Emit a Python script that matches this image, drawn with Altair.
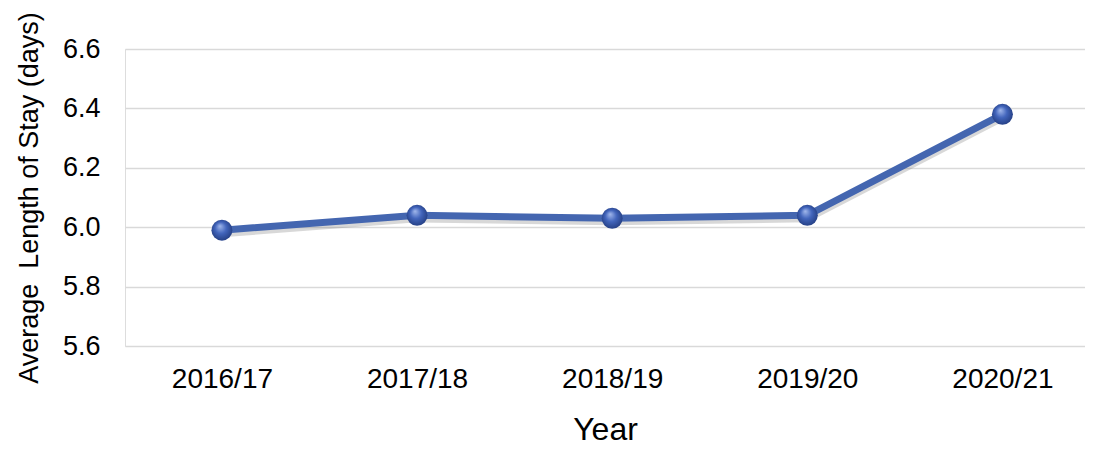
import altair as alt
import pandas as pd

years = ["2016/17", "2017/18", "2018/19", "2019/20", "2020/21"]
los = [5.99, 6.04, 6.03, 6.04, 6.38]
y_ticks = [5.6, 5.8, 6.0, 6.2, 6.4, 6.6]

df = pd.DataFrame({"year": years, "los": los})

FONT = "Liberation Sans"
Y_TITLE = "Average\u00a0 Length of Stay (days)"

x_enc = alt.X(
    "year:N",
    sort=years,
    scale=alt.Scale(type="point", padding=0.46, align=0.54),
    axis=alt.Axis(
        title="Year",
        labelAngle=0,
        labelFontSize=28,
        labelFont=FONT,
        labelColor="#000000",
        labelPadding=19,
        ticks=False,
        tickSize=0,
        domain=False,
        grid=False,
        titleFontSize=32,
        titleFont=FONT,
        titleFontWeight="normal",
        titleColor="#000000",
        titleBaseline="alphabetic",
        titleY=93,
    ),
)

y_axis = alt.Axis(
    title=Y_TITLE,
    values=y_ticks,
    format=".1f",
    labelFontSize=27,
    labelFont=FONT,
    labelColor="#000000",
    labelPadding=25,
    ticks=False,
    tickSize=0,
    domain=False,
    grid=True,
    gridColor="#d9d9d9",
    gridWidth=1.5,
    titleFontSize=27,
    titleFont=FONT,
    titleFontWeight="normal",
    titleColor="#000000",
    titleBaseline="middle",
    titleX=-96,
)
y_scale = alt.Scale(domain=[5.6, 6.6], nice=False, zero=False)

base = alt.Chart(df)

shadow = base.transform_calculate(sh="datum.los - 0.012").mark_line(
    color="#7f7f7f", strokeWidth=7, opacity=0.3
).encode(x=x_enc, y=alt.Y("sh:Q", scale=y_scale, axis=y_axis, title=Y_TITLE))

line = base.mark_line(color="#4466b0", strokeWidth=7).encode(
    x=x_enc, y=alt.Y("los:Q", scale=y_scale, axis=y_axis, title=Y_TITLE)
)

points = base.mark_point(
    shape="circle",
    size=440,
    filled=True,
    opacity=1,
    fill={
        "gradient": "radial",
        "x1": 0.4, "y1": 0.3, "r1": 0.0,
        "x2": 0.5, "y2": 0.5, "r2": 0.6,
        "stops": [
            {"offset": 0.0, "color": "#a3b9ec"},
            {"offset": 0.45, "color": "#4265bc"},
            {"offset": 1.0, "color": "#1e3676"},
        ],
    },
).encode(x=x_enc, y=alt.Y("los:Q", scale=y_scale, axis=y_axis, title=Y_TITLE))

chart = (
    alt.layer(shadow, line, points)
    .properties(
        width=960,
        height=297,
        padding={"left": 117, "top": 41, "right": 0, "bottom": 100},
        autosize=alt.AutoSizeParams(type="none"),
    )
    .configure_view(strokeWidth=0, stroke="transparent")
    .configure(background="#ffffff")
)

chart.save("out.html", embed_options={"renderer": "svg", "actions": False})
